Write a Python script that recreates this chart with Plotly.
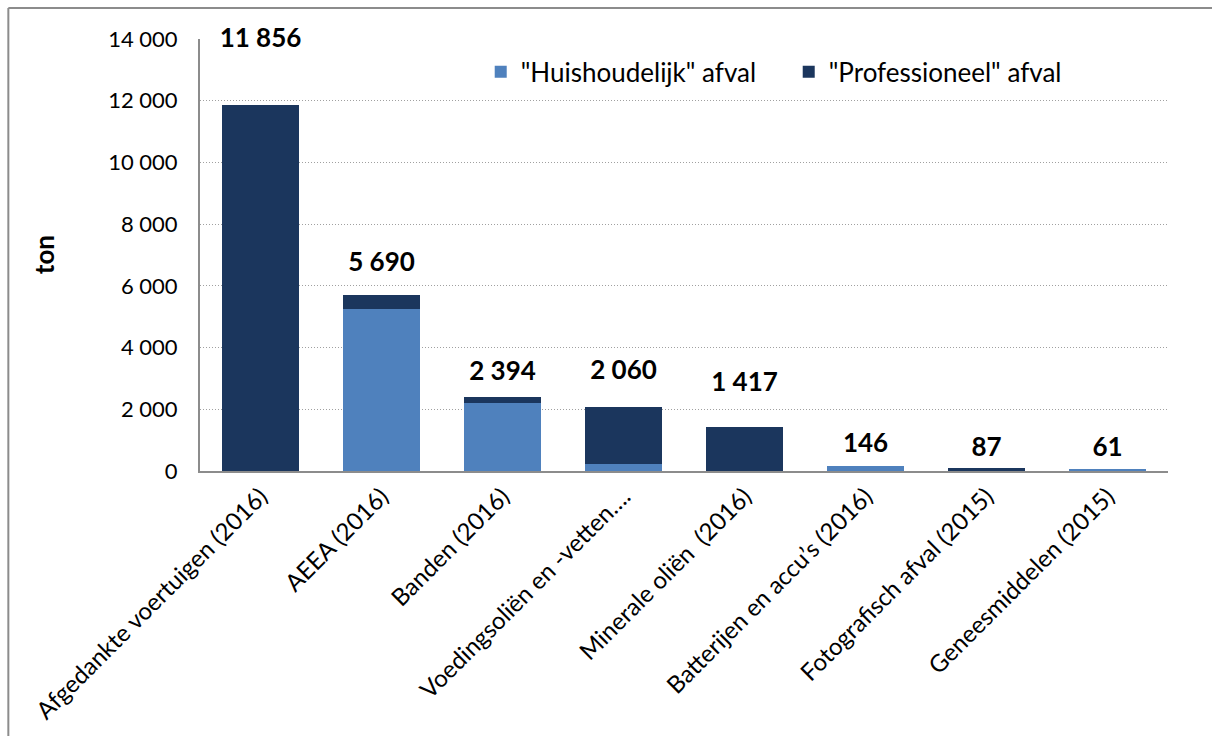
import plotly.graph_objects as go

categories = [
    "Afgedankte voertuigen (2016)",
    "AEEA (2016)",
    "Banden (2016)",
    "Voedingsoliën en -vetten….",
    "Minerale oliën  (2016)",
    "Batterijen en accu’s (2016)",
    "Fotografisch afval (2015)",
    "Geneesmiddelen (2015)",
]
huishoudelijk = [0, 5250, 2190, 230, 0, 146, 0, 61]
professioneel = [11856, 440, 204, 1830, 1417, 0, 87, 0]
totals = [11856, 5690, 2394, 2060, 1417, 146, 87, 61]
total_labels = ["11 856", "5 690", "2 394", "2 060", "1 417", "146", "87", "61"]
# label heights as placed in the original (ton)
label_y = [13950, 6700, 3150, 3180, 2790, 840, 710, 710]

LIGHT = "#4F81BD"
DARK = "#1B365D"
FONT = "Lato, Open Sans, sans-serif"

fig = go.Figure()
fig.add_trace(go.Bar(x=categories, y=huishoudelijk, name='"Huishoudelijk" afval',
                     marker=dict(color=LIGHT, line=dict(width=0)), width=0.64))
fig.add_trace(go.Bar(x=categories, y=professioneel, name='"Professioneel" afval',
                     marker=dict(color=DARK, line=dict(width=0)), width=0.64))
fig.add_trace(go.Scatter(x=categories, y=label_y, text=total_labels, mode="text",
                         textfont=dict(family=FONT, size=26, color="black", weight="bold"),
                         showlegend=False, hoverinfo="skip", cliponaxis=False))

# outer frame of the original figure (left and top edges only are visible)
frame = dict(color="#8C8C8C", width=2)
fig.add_shape(type="line", xref="paper", yref="paper",
              x0=-0.198, x1=-0.198, y0=-0.7, y1=1.072, line=frame)
fig.add_shape(type="line", xref="paper", yref="paper",
              x0=-0.198, x1=1.1, y0=1.072, y1=1.072, line=frame)

fig.add_annotation(text="<b>ton</b>", xref="paper", yref="paper", x=-0.161, y=0.5,
                   xanchor="center", yanchor="middle",
                   textangle=-90, showarrow=False,
                   font=dict(family=FONT, size=26, color="black"))

fig.update_layout(
    barmode="stack",
    width=1212, height=736,
    margin=dict(l=200, r=44, t=39, b=265),
    paper_bgcolor="white", plot_bgcolor="white",
    separators=", ",
    font=dict(family=FONT, size=22, color="black"),
    legend=dict(orientation="h", x=0.29, y=0.924, xanchor="left", yanchor="middle",
                font=dict(size=26), bgcolor="rgba(0,0,0,0)", itemwidth=30,
                entrywidth=263, entrywidthmode="pixels",
                traceorder="normal"),
    showlegend=True,
)
fig.update_yaxes(range=[0, 14000], dtick=2000, tickformat=",d",
                 showgrid=True, gridcolor="#A0A0A0", griddash="1px,2px", gridwidth=1,
                 showline=True, linecolor="#8C8C8C", linewidth=2,
                 zeroline=False, ticks="", ticklabelstandoff=16,
                 tickfont=dict(size=22))
fig.update_xaxes(tickangle=-45, tickfont=dict(size=24),
                 showline=True, linecolor="#8C8C8C", linewidth=2, ticks="")

fig.write_html("out.html", config={"displayModeBar": False},
               post_script="document.body.style.margin='0';document.body.style.overflow='hidden';")
